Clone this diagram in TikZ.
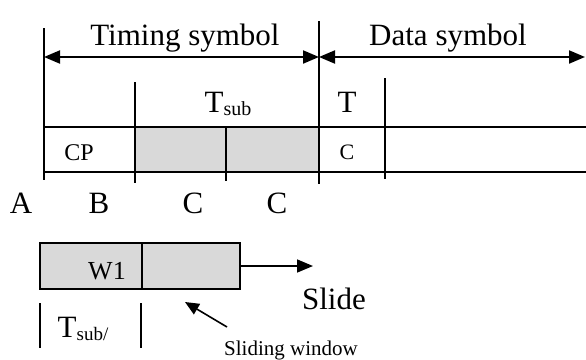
\documentclass[tikz,border=0pt]{standalone}
\usepackage{fontspec}
\setmainfont{Liberation Serif}
\usetikzlibrary{arrows.meta}

\definecolor{cellgray}{RGB}{217,217,217}
\newcommand{\subtxt}[2]{\raisebox{-3pt}{\fontsize{#1}{#1}\selectfont #2}}

\begin{document}
\begin{tikzpicture}[x=1pt,y=-1pt,line width=1.5pt,line cap=butt,
    >={Triangle[length=16pt,width=13pt]},
    big/.style={font=\fontsize{31}{36}\selectfont,anchor=base,inner sep=0pt},
    small/.style={font=\fontsize{22}{26}\selectfont,anchor=base,inner sep=0pt}]
    \useasboundingbox (0,0) rectangle (586,359);

    % grey cells of the timing symbol
    \fill[cellgray] (135,127) rectangle (319,172);

    % the two horizontal lines of the frame
    \draw (44,127) -- (586,127);
    \draw (44,172) -- (586,172);

    % symbol borders and cell borders
    \draw (44,28) -- (44,180);
    \draw (319,21) -- (319,184);
    \draw (135,82) -- (135,183);
    \draw (226,127) -- (226,181);
    \draw (385,78) -- (385,179);

    % arrows over the symbols
    \coordinate (timingL) at (44,57);
    \coordinate (border) at (319,57);
    \coordinate (dataR) at (585,57);
    \draw[<->,line width=2pt] (timingL) -- (border);
    \draw[<->,line width=2pt] (border) -- (dataR);

    % text at the top
    \node[big] (timing) at (185,45) {Timing symbol};
    \node[big] (data) at (448,45) {Data symbol};
    \node[big] (tsub) at (228,112) {T\subtxt{20}{sub}};
    \node[big] (tdata) at (347,112) {T};
    \node[small,font=\fontsize{24}{28}\selectfont] (cp) at (79,160) {CP};
    \node[small] (cdata) at (347,159) {C};

    % labels under the frame
    \node[big] (la) at (21,213) {A};
    \node[big] (lb) at (99,213) {B};
    \node[big] (lc1) at (193,213) {C};
    \node[big] (lc2) at (277,213) {C};

    % the sliding window
    \draw[fill=cellgray] (40,243) rectangle (240,289);
    \draw (142,243) -- (142,289);
    \node[big,font=\fontsize{26}{30}\selectfont] (w1) at (107,279) {W1};
    \coordinate (winR) at (240,266);
    \coordinate (slideR) at (313,266);
    \draw[->,line width=1.6pt] (winR) -- (slideR);
    \node[big] (slide) at (334,309) {Slide};

    % window length
    \draw (40,303) -- (40,348);
    \draw (141,303) -- (141,348);
    \node[big] (twin) at (83,337) {T\subtxt{19}{sub/}};

    % pointer to the window
    \coordinate (ptrS) at (227,327);
    \coordinate (ptrE) at (185,302);
    \draw[->,line width=1.6pt,>={Triangle[length=14pt,width=12pt]}] (ptrS) -- (ptrE);
    \node[small,font=\fontsize{21}{25}\selectfont] (sw) at (291,355) {Sliding window};
\end{tikzpicture}
\end{document}
